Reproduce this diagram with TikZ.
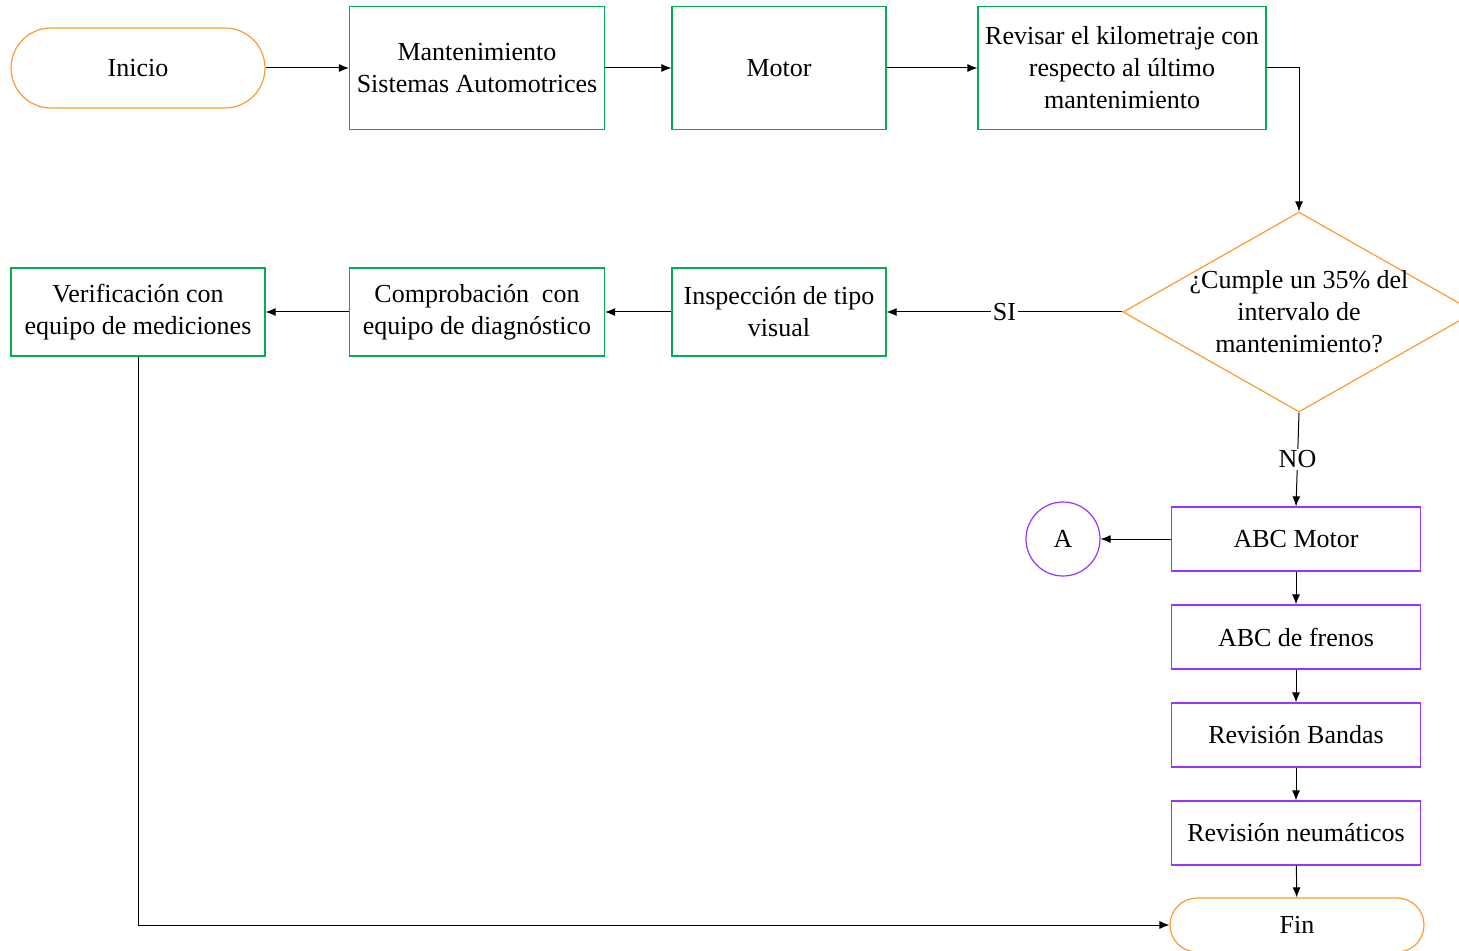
\documentclass[tikz,border=0pt]{standalone}
\usepackage{fontspec}
\setmainfont{Liberation Serif}
\usetikzlibrary{shapes.geometric, arrows.meta, positioning}
\definecolor{naranjaTerminal}{RGB}{255, 153, 51}
\definecolor{verdeProceso}{RGB}{0, 176, 80}
\definecolor{moradoRevision}{RGB}{153, 51, 255}

\tikzset{
    texto/.style={font=\fontsize{13}{16}\selectfont, align=center, inner sep=1pt},
    terminal/.style={texto, draw=naranjaTerminal, line width=0.6pt, rounded corners=20pt, minimum width=127pt, minimum height=40pt},
    proceso/.style={texto, draw=verdeProceso, line width=0.6pt},
    revision/.style={texto, draw=moradoRevision, line width=0.6pt, minimum width=124.5pt, minimum height=32pt},
    decision/.style={diamond, draw=naranjaTerminal, line width=0.6pt, minimum width=176pt, minimum height=100pt, inner sep=0pt},
    conector/.style={circle, texto, draw=moradoRevision, line width=0.6pt, minimum size=37pt},
    flecha/.style={-{Latex[length=5pt, width=4pt]}, line width=0.5pt}
}

\begin{document}
\begin{tikzpicture}[x=0.5pt, y=-0.5pt]
    \useasboundingbox (0,0) rectangle (1459,951);

    % Fila superior
    \node[terminal] (inicio) at (138,68) {Inicio};
    \node[proceso, minimum width=127.5pt, minimum height=61.5pt] (mant) at (477,68) {Mantenimiento\\Sistemas Automotrices};
    \node[proceso, minimum width=107pt, minimum height=61.5pt] (motor) at (779,68) {Motor};
    \node[proceso, minimum width=144pt, minimum height=61.5pt] (revisar) at (1122,68) {Revisar el kilometraje con\\respecto al último\\mantenimiento};

    % Decision
    \node[decision, label={[texto]center:¿Cumple un 35\% del\\intervalo de\\mantenimiento?}] (cumple) at (1299,312) {};

    % Fila del SI
    \node[proceso, minimum width=107pt, minimum height=44pt] (insp) at (779,312) {Inspección de tipo\\visual};
    \node[proceso, minimum width=127.5pt, minimum height=44pt] (comp) at (477,312) {Comprobación~ con\\equipo de diagnóstico};
    \node[proceso, minimum width=127pt, minimum height=44pt] (verif) at (138,312) {Verificación con\\equipo de mediciones};

    % Columna del NO
    \node[revision] (abcmotor) at (1296,539) {ABC Motor};
    \node[conector] (A) at (1063,539) {A};
    \node[revision] (frenos) at (1296,637) {ABC de frenos};
    \node[revision] (bandas) at (1296,735) {Revisión Bandas};
    \node[revision] (neumaticos) at (1296,833) {Revisión neumáticos};
    \node[terminal, rounded corners=13.5pt, minimum height=27pt] (fin) at (1297,925) {Fin};

    % Conexiones
    \draw[flecha] (inicio) -- (mant);
    \draw[flecha] (mant) -- (motor);
    \draw[flecha] (motor) -- (revisar);
    \draw[flecha] (revisar.east) -| (cumple.north);
    \draw[flecha] (cumple.west) -- node[texto, fill=white] {SI} (insp.east);
    \draw[flecha] (insp) -- (comp);
    \draw[flecha] (comp) -- (verif);
    \draw[flecha] (cumple.south) -- node[texto, fill=white] {NO} (abcmotor.north);
    \draw[flecha] (abcmotor) -- (A);
    \draw[flecha] (abcmotor) -- (frenos);
    \draw[flecha] (frenos) -- (bandas);
    \draw[flecha] (bandas) -- (neumaticos);
    \draw[flecha] (neumaticos) -- (fin);
    \draw[flecha] (verif.south) |- (fin.west);
\end{tikzpicture}
\end{document}
